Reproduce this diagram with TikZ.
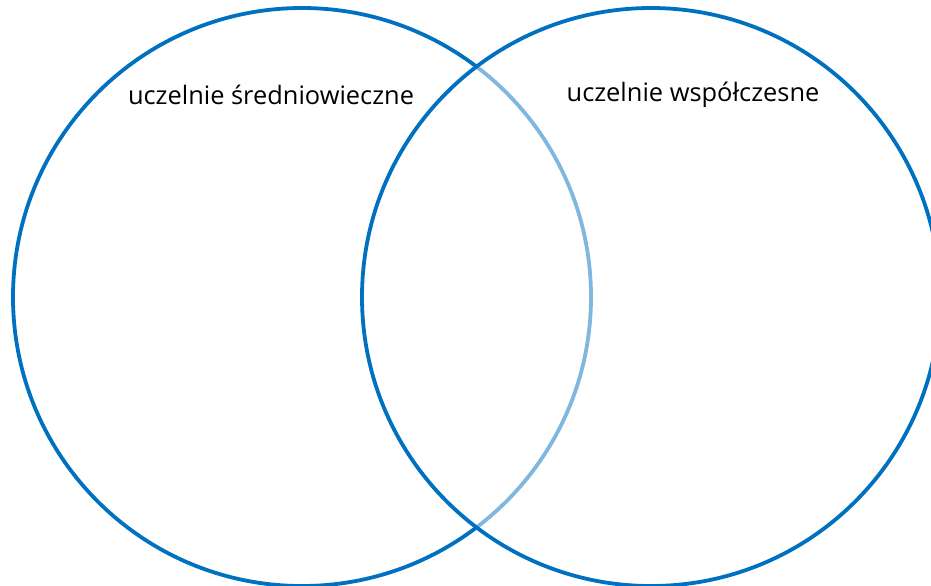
\documentclass[tikz,border=0pt]{standalone}
\usepackage{fontspec}
\setmainfont{Open Sans}
\usetikzlibrary{positioning}
\definecolor{vennBlue}{HTML}{0070C0}
\tikzset{
    vennCircle/.style={circle, draw=vennBlue, line width=1.9pt, minimum size=289pt, inner sep=0pt},
    vennLabel/.style={font=\fontsize{12.7}{15}\selectfont, text=black, inner sep=0pt}
}
\begin{document}
\begin{tikzpicture}[x=0.5pt,y=-0.5pt]
            \useasboundingbox (0,0) rectangle (931,585);
            \clip (0,0) rectangle (931,585);
            \node [vennCircle] (leftCircle) at (302,297) {};
            \node [vennCircle, fill=white, fill opacity=0.5] (rightCircle) at (651,297) {};
            \node [vennLabel] (leftLabel) at (271,95) {uczelnie średniowieczne};
            \node [vennLabel] (rightLabel) at (693,95) {uczelnie współczesne};
        \end{tikzpicture}
\end{document}
